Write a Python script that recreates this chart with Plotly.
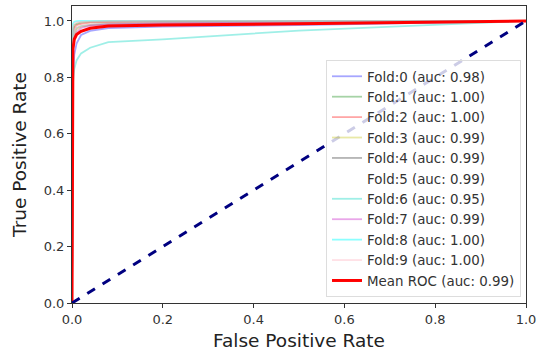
import plotly.graph_objects as go

# ---- data ----
fpr = [0.0, 0.002, 0.005, 0.01, 0.02, 0.04, 0.08, 0.2, 0.5, 1.0]
fold_names = ["Fold:0 (auc: 0.98)", "Fold:1 (auc: 1.00)", "Fold:2 (auc: 1.00)",
              "Fold:3 (auc: 0.99)", "Fold:4 (auc: 0.99)", "Fold:5 (auc: 0.99)",
              "Fold:6 (auc: 0.95)", "Fold:7 (auc: 0.99)", "Fold:8 (auc: 1.00)",
              "Fold:9 (auc: 1.00)"]
fold0 = [0.0, 0.80, 0.88, 0.92, 0.95, 0.965, 0.975, 0.980, 0.985, 1.0]
fold1 = [0.0, 0.97, 0.985, 0.99, 0.995, 0.997, 0.998, 0.999, 1.0, 1.0]
fold2 = [0.0, 0.95, 0.975, 0.985, 0.99, 0.994, 0.996, 0.998, 0.999, 1.0]
fold3 = [0.0, 0.92, 0.95, 0.97, 0.98, 0.985, 0.988, 0.99, 0.995, 1.0]
fold4 = [0.0, 0.93, 0.96, 0.975, 0.982, 0.986, 0.99, 0.992, 0.995, 1.0]
fold5 = [0.0, 0.93, 0.96, 0.975, 0.982, 0.986, 0.99, 0.992, 0.995, 1.0]
fold6 = [0.0, 0.78, 0.83, 0.86, 0.885, 0.905, 0.925, 0.935, 0.966, 1.0]
fold7 = [0.0, 0.90, 0.94, 0.96, 0.975, 0.983, 0.988, 0.991, 0.995, 1.0]
fold8 = [0.0, 0.99, 0.997, 0.999, 1.0, 1.0, 1.0, 1.0, 1.0, 1.0]
fold9 = [0.0, 0.98, 0.99, 0.995, 0.997, 0.998, 0.999, 1.0, 1.0, 1.0]
folds = [fold0, fold1, fold2, fold3, fold4, fold5, fold6, fold7, fold8, fold9]
fold_colors = ["rgba(0,0,255,0.35)", "rgba(0,128,0,0.35)", "rgba(255,0,0,0.35)",
               "rgba(191,191,0,0.35)", "rgba(128,128,128,0.6)", "rgba(255,255,255,0.35)",
               "rgba(64,224,208,0.5)", "rgba(191,0,191,0.35)", "rgba(0,255,255,0.45)",
               "rgba(255,192,203,0.5)"]
mean_fpr = [0.0, 0.002, 0.005, 0.01, 0.02, 0.04, 0.08, 0.2, 0.5, 1.0]
mean_tpr = [0.0, 0.90, 0.935, 0.952, 0.963, 0.974, 0.982, 0.986, 0.99, 1.0]
mean_name = "Mean ROC (auc: 0.99)"
diag = [0.0, 1.0]

fig = go.Figure()
for name, tpr, col in zip(fold_names, folds, fold_colors):
    fig.add_trace(go.Scatter(x=fpr, y=tpr, mode="lines", name=name,
                             line=dict(color=col, width=1.8)))
fig.add_trace(go.Scatter(x=mean_fpr, y=mean_tpr, mode="lines", name=mean_name,
                         line=dict(color="red", width=3)))
fig.add_trace(go.Scatter(x=diag, y=diag, mode="lines", showlegend=False,
                         line=dict(color="navy", width=3, dash="dash")))

axis_common = dict(showgrid=False, zeroline=False, showline=True, mirror=True,
                   linecolor="#333", linewidth=1, ticks="outside", ticklen=4,
                   tickcolor="#333", tickfont=dict(size=13, color="#333"),
                   tickformat=".1f", dtick=0.2, tick0=0, automargin=False)
fig.update_xaxes(range=[0, 1], title=dict(text="False Positive Rate",
                 font=dict(size=18.5, color="#222"), standoff=8), **axis_common)
fig.update_yaxes(range=[0, 1.053], title=dict(text="True Positive Rate",
                 font=dict(size=18.5, color="#222"), standoff=12), **axis_common)

fig.update_layout(
    width=543, height=356,
    margin=dict(l=72, r=17, t=6, b=53),
    paper_bgcolor="white", plot_bgcolor="white",
    font=dict(family="DejaVu Sans", color="#333"),
    legend=dict(x=0.989, y=0.02, xanchor="right", yanchor="bottom",
                bgcolor="rgba(255,255,255,0.8)", bordercolor="#ddd", borderwidth=1,
                font=dict(size=13.4, color="#333"), tracegroupgap=0),
)
fig.write_html("out.html", config={"displayModeBar": False},
               post_script="document.body.style.margin='0';")
